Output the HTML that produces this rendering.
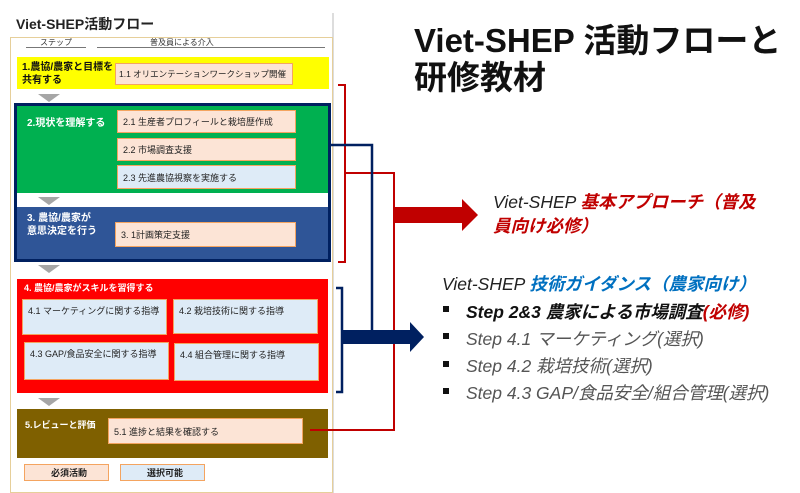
<!DOCTYPE html>
<html><head><meta charset="utf-8"><style>
*{margin:0;padding:0;box-sizing:border-box}
body{width:800px;height:493px;background:#fff;position:relative;overflow:hidden;font-family:"Liberation Sans","Noto Sans CJK JP",sans-serif}
.a{position:absolute}
.bx{position:absolute;border:1.5px solid #f4a460;font-size:9px;color:#222;padding-left:5px;display:flex;align-items:center;white-space:nowrap;overflow:hidden}
.pk{background:#fce4d6}.lb{background:#deebf7}
.top{align-items:flex-start;padding-top:4px}
.tri{position:absolute;width:0;height:0;border-left:11px solid transparent;border-right:11px solid transparent;border-top:8px solid #a6a6a6}
.w{color:#fff;font-weight:bold;font-size:10px}
.it{font-style:italic;font-size:17.5px;position:absolute;white-space:nowrap}
</style></head><body>
<div class="a" style="left:332px;top:13px;width:2px;height:480px;background:#ddd"></div>
<div class="a" style="left:16px;top:14px;font-weight:bold;font-size:14px;color:#222">Viet-SHEP活動フロー</div>
<div class="a" style="left:10px;top:37px;width:323px;height:456px;border:1.5px solid #e6cf9a"></div>
<div class="a" style="left:40px;top:37px;font-size:8px;color:#333">ステップ</div>
<div class="a" style="left:26px;top:47px;width:60px;height:1px;background:#777"></div>
<div class="a" style="left:150px;top:37px;font-size:8px;color:#333">普及員による介入</div>
<div class="a" style="left:97px;top:47px;width:228px;height:1px;background:#777"></div>

<div class="a" style="left:17px;top:57px;width:312px;height:32px;background:#ffff00"></div>
<div class="a" style="left:22px;top:61px;font-weight:bold;font-size:10px;line-height:13px;color:#111">1.農協/農家と目標を<br>共有する</div>
<div class="bx pk" style="left:115px;top:63px;width:178px;height:22px;font-size:8.5px;padding-left:3px">1.1 オリエンテーションワークショップ開催</div>
<div class="tri" style="left:38px;top:94px"></div>

<div class="a" style="left:14px;top:103px;width:317px;height:159px;border:3px solid #002060;background:#fff"></div>
<div class="a" style="left:17px;top:106px;width:311px;height:87px;background:#00b050"></div>
<div class="a w" style="left:27px;top:114px">2.現状を理解する</div>
<div class="bx pk" style="left:117px;top:110px;width:179px;height:23px">2.1 生産者プロフィールと栽培歴作成</div>
<div class="bx pk" style="left:117px;top:138px;width:179px;height:23px">2.2 市場調査支援</div>
<div class="bx lb" style="left:117px;top:165px;width:179px;height:24px">2.3 先進農協視察を実施する</div>
<div class="tri" style="left:38px;top:197px"></div>
<div class="a" style="left:17px;top:207px;width:311px;height:52px;background:#2f5597"></div>
<div class="a w" style="left:27px;top:212px;line-height:13px">3. 農協/農家が<br>意思決定を行う</div>
<div class="bx pk" style="left:115px;top:222px;width:181px;height:25px">3. 1計画策定支援</div>
<div class="tri" style="left:38px;top:265px"></div>

<div class="a" style="left:17px;top:279px;width:311px;height:114px;background:#ff0000"></div>
<div class="a w" style="left:24px;top:281px;font-size:9px">4. 農協/農家がスキルを習得する</div>
<div class="bx lb top" style="left:22px;top:299px;width:145px;height:36px">4.1 マーケティングに関する指導</div>
<div class="bx lb top" style="left:173px;top:299px;width:145px;height:35px">4.2 栽培技術に関する指導</div>
<div class="bx lb top" style="left:24px;top:342px;width:145px;height:38px">4.3 GAP/食品安全に関する指導</div>
<div class="bx lb top" style="left:174px;top:343px;width:145px;height:38px">4.4 組合管理に関する指導</div>
<div class="tri" style="left:38px;top:398px"></div>

<div class="a" style="left:17px;top:409px;width:311px;height:49px;background:#7f6000"></div>
<div class="a w" style="left:25px;top:418px;font-size:9px">5.レビューと評価</div>
<div class="bx pk" style="left:108px;top:418px;width:195px;height:26px">5.1 進捗と結果を確認する</div>
<div class="bx pk" style="left:24px;top:464px;width:85px;height:17px;justify-content:center;font-weight:bold">必須活動</div>
<div class="bx lb" style="left:120px;top:464px;width:85px;height:17px;justify-content:center;font-weight:bold">選択可能</div>

<svg class="a" style="left:0;top:0" width="800" height="493">
<g fill="none" stroke="#c00000" stroke-width="2">
<path d="M338 85H345V262H338"/>
<path d="M345 173H394V430H310"/>
</g>
<path d="M394 207H462V199L478 215L462 231V223H394Z" fill="#c00000"/>
<g fill="none" stroke="#002060" stroke-width="2.5">
<path d="M330 145H372V336"/>
<path d="M336 288H342V392H336"/>
</g>
<path d="M342 330H410V322L424 337L410 352V344H342Z" fill="#002060"/>
</svg>

<div class="a" style="left:414px;top:22px;font-size:33px;font-weight:bold;line-height:37px;color:#111;white-space:nowrap">Viet-SHEP 活動フローと<br>研修教材</div>
<div class="it" style="left:493px;top:190px;color:#c00000;line-height:24px"><span style="color:#222">Viet-SHEP </span><b>基本アプローチ（普及</b><br><b>員向け必修）</b></div>
<div class="it" style="left:442px;top:271px;color:#222"><span>Viet-SHEP </span><b style="color:#0070c0">技術ガイダンス（農家向け）</b></div>
<div class="a" style="left:443px;top:306px;width:6px;height:6px;background:#111"></div>
<div class="a" style="left:443px;top:333px;width:6px;height:6px;background:#111"></div>
<div class="a" style="left:443px;top:361px;width:6px;height:6px;background:#111"></div>
<div class="a" style="left:443px;top:388px;width:6px;height:6px;background:#111"></div>
<div class="it" style="left:466px;top:299px;color:#111;font-weight:bold">Step 2&amp;3 農家による市場調査<span style="color:#c00000">(必修)</span></div>
<div class="it" style="left:466px;top:326px;color:#555">Step 4.1 マーケティング(選択)</div>
<div class="it" style="left:466px;top:353px;color:#555">Step 4.2 栽培技術(選択)</div>
<div class="it" style="left:466px;top:380px;color:#555">Step 4.3 GAP/食品安全/組合管理(選択)</div>
</body></html>
